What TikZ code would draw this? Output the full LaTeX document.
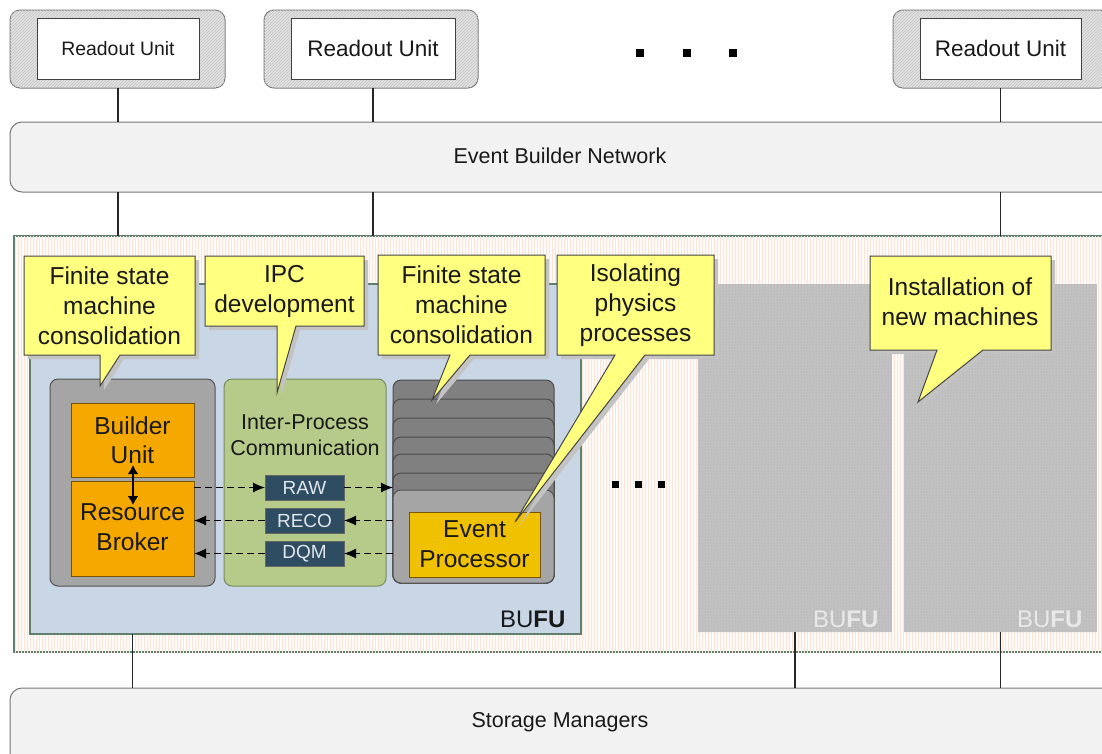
\documentclass[tikz,border=0pt]{standalone}
\usepackage{fontspec}
\setmainfont{Liberation Sans}
\usetikzlibrary{patterns,arrows.meta}
\definecolor{txt}{RGB}{25,25,25}
\definecolor{ebnfill}{RGB}{242,242,242}
\definecolor{ebnline}{RGB}{120,120,120}
\definecolor{rofill}{RGB}{226,226,226}
\definecolor{rohatch}{RGB}{196,196,196}
\definecolor{framefill}{RGB}{255,251,249}
\definecolor{framehatch}{RGB}{253,228,216}
\definecolor{frameline}{RGB}{95,128,110}
\definecolor{bluefill}{RGB}{200,214,229}
\definecolor{contfill}{RGB}{165,165,165}
\definecolor{contline}{RGB}{85,85,85}
\definecolor{orangefill}{RGB}{245,168,0}
\definecolor{orangeline}{RGB}{120,85,0}
\definecolor{epfill}{RGB}{240,193,0}
\definecolor{greenfill}{RGB}{182,202,138}
\definecolor{greenline}{RGB}{120,140,95}
\definecolor{slatefill}{RGB}{46,77,98}
\definecolor{slatetxt}{RGB}{225,230,235}
\definecolor{stackdark}{RGB}{128,128,128}
\definecolor{ghostfill}{RGB}{194,194,194}
\definecolor{ghostdots}{RGB}{165,165,165}
\definecolor{ghosttxt}{RGB}{232,232,232}
\definecolor{callfill}{RGB}{255,255,128}
\definecolor{callline}{RGB}{70,70,70}
\definecolor{shadowc}{RGB}{195,195,195}
\newcommand\bx[7]{\node[#2, minimum width={(#5)-(#3)}, minimum height={(#6)-(#4)}, inner sep=0pt, outer sep=0pt] (#1) at ({((#3)+(#5))/2},{((#4)+(#6))/2}) {#7};}
\begin{document}
\begin{tikzpicture}[x=1pt,y=-1pt,
  every node/.style={text=txt},
  robox/.style={draw=ebnline, fill=rofill, rounded corners=10pt, line width=1pt,
    postaction={pattern=north east lines, pattern color=rohatch}},
  whitebox/.style={draw=black!75, fill=white, line width=1pt},
  bar/.style={draw=ebnline, fill=ebnfill, rounded corners=12pt, line width=1pt},
  conn/.style={draw=black!85, line width=1.4pt},
  frame/.style={draw=frameline, fill=framefill, line width=1.2pt,
    postaction={pattern=vertical lines, pattern color=framehatch}},
  bluebox/.style={draw=frameline, fill=bluefill, line width=1.2pt},
  cont/.style={draw=contline, fill=contfill, rounded corners=8pt, line width=1pt},
  orange/.style={draw=orangeline, fill=orangefill, line width=1pt},
  epbox/.style={draw=orangeline, fill=epfill, line width=1pt},
  green/.style={draw=greenline, fill=greenfill, rounded corners=8pt, line width=1pt},
  slate/.style={draw=black!60, fill=slatefill, line width=1pt, text=slatetxt,
    font=\fontsize{19}{22}\selectfont},
  stackl/.style={draw=black!70, fill=stackdark, rounded corners=8pt, line width=1pt},
  ghost/.style={fill=ghostfill, postaction={pattern=dots, pattern color=ghostdots}},
  callbox/.style={draw=callline, fill=callfill, line width=1pt, line join=miter},
  callshadow/.style={fill=shadowc},
  calltext/.style={align=center, font=\fontsize{24.5}{30}\selectfont},
  dashar/.style={draw=black, dash pattern=on 7pt off 4pt, line width=1pt,
    -{Latex[length=12pt,width=10pt]}},
  dot/.style={fill=black, minimum size=8pt, inner sep=0pt}
]
\useasboundingbox (0,0) rectangle (1102,753);
\clip (0,0) rectangle (1102,753);

% ---------- readout units ----------
\bx{ro1}{robox}{10}{10}{225}{88}{}
\bx{ro2}{robox}{264}{10}{478}{88}{}
\bx{ro3}{robox}{893}{10}{1110}{88}{}
\bx{ru1}{whitebox, font=\fontsize{19.4}{22}\selectfont}{37}{18}{199}{79}{Readout Unit}
\bx{ru2}{whitebox, font=\fontsize{22.5}{26}\selectfont}{291}{18}{455}{79}{Readout Unit}
\bx{ru3}{whitebox, font=\fontsize{22.5}{26}\selectfont}{920}{18}{1081}{79}{Readout Unit}
\node[dot] (d1) at (640,53) {};
\node[dot] (d2) at (687,53) {};
\node[dot] (d3) at (733,53) {};

% ---------- event builder network ----------
\bx{ebn}{bar}{10}{122}{1125}{192}{}
\node[font=\fontsize{21.5}{26}\selectfont] (ebnt) at (560,156) {Event Builder Network};

% ---------- outer frame ----------
\bx{frame}{frame}{14}{236}{1125}{652}{}

% ---------- storage managers ----------
\bx{sm}{bar}{10}{688}{1125}{790}{}
\node[font=\fontsize{21.5}{26}\selectfont] (smt) at (560,722) {Storage Managers};

% ---------- BUFU (detailed) ----------
\bx{bufu}{bluebox}{30}{284}{581}{634}{}
\node[anchor=base east, font=\fontsize{24}{28}\selectfont] (bufut) at (569,627) {BU\textbf{FU}};

\bx{cont}{cont}{50}{379}{215}{586}{}
\bx{bu}{orange, align=center, font=\fontsize{24.5}{30}\selectfont}{71}{403}{194}{477}{Builder\\[-1pt]Unit}
\bx{rb}{orange}{71}{481}{194}{576}{}
\node[align=center, font=\fontsize{24.5}{30}\selectfont] (rbt) at (132.5,527) {Resource\\Broker};
\draw[line width=2.4pt, {Latex[length=9pt,width=11pt]}-{Latex[length=9pt,width=11pt]}] (133,465) -- (133,505);

\bx{ipc}{green}{224}{379}{386}{586}{}
\node[align=center, font=\fontsize{21.5}{26}\selectfont] (ipct) at (305,435) {Inter-Process\\Communication};
\bx{raw}{slate}{265}{475}{344}{500}{RAW}
\bx{reco}{slate}{265}{508}{344}{533}{RECO}
\bx{dqm}{slate}{265}{541}{344}{566}{DQM}

\bx{s1}{stackl}{393}{380}{554}{583}{}
\bx{s2}{stackl}{393}{399}{554}{583}{}
\bx{s3}{stackl}{393}{418}{554}{583}{}
\bx{s4}{stackl}{393}{437}{554}{583}{}
\bx{s5}{stackl}{393}{454}{554}{583}{}
\bx{s6}{stackl}{393}{473}{554}{583}{}
\bx{s7}{cont}{393}{490}{554}{583}{}
\bx{ep}{epbox, align=center, font=\fontsize{24.5}{30}\selectfont}{409}{512}{540}{577}{Event\\Processor}

% dashed data paths
\draw[dashar] (rb.east |- raw.west) -- (raw.west);
\draw[dashar] (raw.east) -- (s7.west |- raw.east);
\draw[dashar] (s7.west |- reco.east) -- (reco.east);
\draw[dashar] (reco.west) -- (rb.east |- reco.west);
\draw[dashar] (s7.west |- dqm.east) -- (dqm.east);
\draw[dashar] (dqm.west) -- (rb.east |- dqm.west);

% ---------- ghost BUFUs ----------
\bx{g1}{ghost}{698}{284}{892}{632}{}
\bx{g2}{ghost}{904}{284}{1097}{632}{}
\node[anchor=base east, text=ghosttxt, font=\fontsize{24}{28}\selectfont] (g1t) at (882,627) {BU\textbf{FU}};
\node[anchor=base east, text=ghosttxt, font=\fontsize{24}{28}\selectfont] (g2t) at (1086,627) {BU\textbf{FU}};

\node[dot, minimum size=7pt] (m1) at (615,484) {};
\node[dot, minimum size=7pt] (m2) at (638,484) {};
\node[dot, minimum size=7pt] (m3) at (661,484) {};

% ---------- connectors ----------
\draw[conn] (ro1.south -| ru1.south) -- (ru1.south |- ebn.north);
\draw[conn] (ro2.south -| ru2.south) -- (ru2.south |- ebn.north);
\draw[conn] (ro3.south -| ru3.south) -- (ru3.south |- ebn.north);
\draw[conn] (ru1.south |- ebn.south) -- (ru1.south |- frame.north);
\draw[conn] (ru2.south |- ebn.south) -- (ru2.south |- frame.north);
\draw[conn] (ru3.south |- ebn.south) -- (ru3.south |- frame.north);
\draw[conn] (bu.south |- bufu.south) -- (bu.south |- sm.north);
\draw[conn] (g1.south) -- (g1.south |- sm.north);
\draw[conn] (g2.south) -- (g2.south |- sm.north);

% ---------- callouts ----------
\foreach \dx/\dy/\st in {4/4/callshadow, 0/0/callbox}{
  \begin{scope}[shift={(\dx,\dy)}]
  \path[\st] (24,256) -- (195,256) -- (195,355) -- (120,355) -- (100,386) -- (100,355) -- (24,355) -- cycle;
  \path[\st] (205,256) -- (364,256) -- (364,326) -- (296,326) -- (277,393) -- (277,326) -- (205,326) -- cycle;
  \path[\st] (378,255) -- (545,255) -- (545,355) -- (470,355) -- (432,400) -- (450,355) -- (378,355) -- cycle;
  \path[\st] (557,255) -- (714,255) -- (714,355) -- (645,355) -- (515,522) -- (615,355) -- (557,355) -- cycle;
  \path[\st] (870,256) -- (1051,256) -- (1051,350) -- (983,350) -- (918,402) -- (937,350) -- (870,350) -- cycle;
  \end{scope}
}
\node[calltext] (c1) at (109.5,306) {Finite state\\machine\\consolidation};
\node[calltext] (c2) at (284.5,291) {IPC\\development};
\node[calltext] (c3) at (461.5,305) {Finite state\\machine\\consolidation};
\node[calltext] (c4) at (635.5,305) {Isolating\\physics\\processes};
\node[calltext] (c5) at (960,301.5) {Installation of\\new machines};
\end{tikzpicture}
\end{document}
